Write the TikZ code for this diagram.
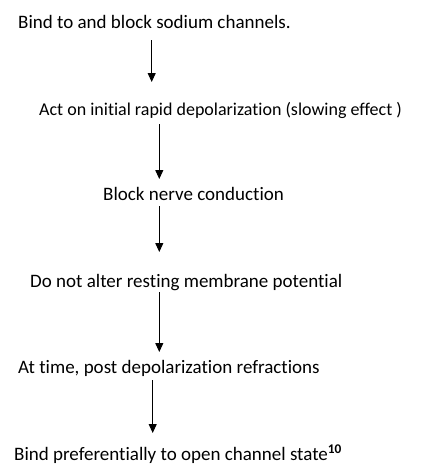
\documentclass[tikz,border=0pt]{standalone}
\usepackage{fontspec}
\setmainfont{Carlito}[Ligatures=NoCommon]
\usetikzlibrary{arrows.meta}
\begin{document}
\begin{tikzpicture}[x=1pt,y=1pt,
  lbl/.style={anchor=base west,inner sep=0pt,font=\fontsize{19}{21}\selectfont},
  small/.style={font=\fontsize{18}{20}\selectfont},
  arr/.style={line width=1pt,-{Triangle[width=8pt,length=9pt]}}]
\useasboundingbox (0,0) rectangle (430,-464);
\node[lbl] (n1) at (18,-28) {Bind to and block sodium channels.};
\node[lbl,small] (n2) at (39,-115) {Act on initial rapid depolarization (slowing effect )};
\node[lbl] (n3) at (103,-200) {Block nerve conduction};
\node[lbl] (n4) at (30,-287) {Do not alter resting membrane potential};
\node[lbl] (n5) at (18,-373) {At time, post depolarization refractions};
\node[lbl] (n6) at (14,-460) {Bind preferentially to open channel state\textsuperscript{\textbf{10}}};
\coordinate (a1s) at (151.7,-40); \coordinate (a1e) at (151.7,-82);
\coordinate (a2s) at (159.3,-124); \coordinate (a2e) at (159.3,-179);
\coordinate (a3s) at (159.3,-206); \coordinate (a3e) at (159.3,-252);
\coordinate (a4s) at (159.3,-292); \coordinate (a4e) at (159.3,-352);
\coordinate (a5s) at (152.7,-380); \coordinate (a5e) at (152.7,-433);
\draw[arr] (a1s) -- (a1e);
\draw[arr] (a2s) -- (a2e);
\draw[arr] (a3s) -- (a3e);
\draw[arr] (a4s) -- (a4e);
\draw[arr] (a5s) -- (a5e);
\end{tikzpicture}
\end{document}
